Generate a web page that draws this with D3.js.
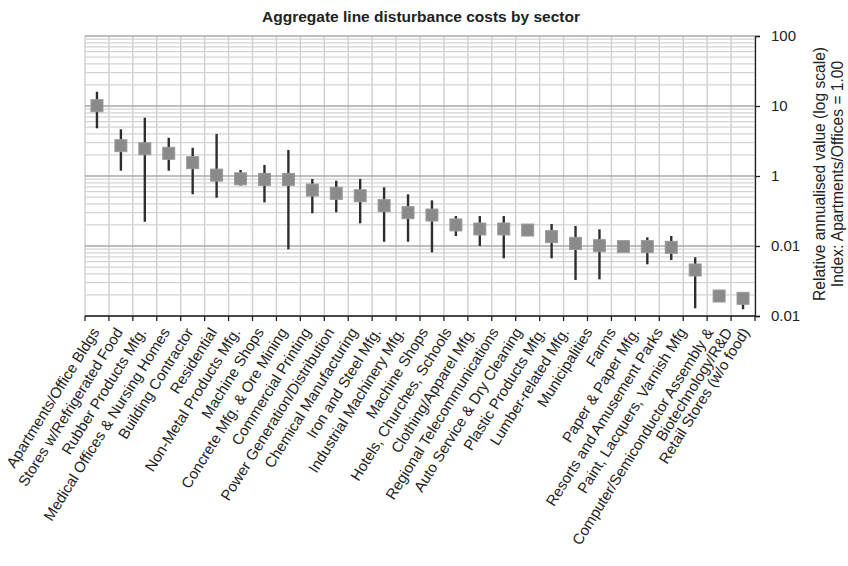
<!DOCTYPE html>
<html>
<head>
<meta charset="utf-8">
<script src="https://cdn.jsdelivr.net/npm/d3@7"></script>
<style>
  body { margin: 0; background: #fff; }
  svg { display: block; font-family: "Liberation Sans", Arial, Helvetica, sans-serif; }
</style>
</head>
<body>
<svg id="chart" width="848" height="566"></svg>
<script>
// Sector names (one entry per column; the two-line one uses "\n")
const sectors = [
  "Apartments/Office Bldgs", "Stores w/Refrigerated Food", "Rubber Products Mfg.",
  "Medical Offices & Nursing Homes", "Building Contractor", "Residential",
  "Non-Metal Products Mfg.", "Machine Shops", "Concrete Mfg. & Ore Mining",
  "Commercial Printing", "Power Generation/Distribution", "Chemical Manufacturing",
  "Iron and Steel Mfg.", "Industrial Machinery Mfg.", "Machine Shops",
  "Hotels, Churches, Schools", "Clothing/Apparel Mfg.", "Regional Telecommunications",
  "Auto Service & Dry Cleaning", "Plastic Products Mfg.", "Lumber-related Mfg.",
  "Municipalities", "Farms", "Paper & Paper Mfg.", "Resorts and Amusement Parks",
  "Paint, Lacquers, Varnish Mfg", "Computer/Semiconductor Assembly &\nBiotechnology/R&D",
  "Retail Stores (w/o food)"
];

// Central estimate per sector
const central = [
  10.1, 2.71, 2.45, 2.11, 1.55, 1.03, 0.91, 0.895, 0.895, 0.63, 0.565, 0.523,
  0.377, 0.299, 0.277, 0.20, 0.175, 0.175, 0.169, 0.136, 0.109, 0.101, 0.098,
  0.098, 0.0957, 0.0454, 0.0193, 0.0179
];

// Upper end of the range (null = no range drawn)
const upper = [
  16, 4.65, 6.8, 3.52, 2.53, 3.98, 1.22, 1.44, 2.35, 0.906, 0.857, 0.906,
  0.689, 0.548, 0.449, 0.268, 0.268, 0.268, null, 0.206, 0.193, 0.173, null,
  0.133, 0.139, 0.0689, null, 0.0179
];

// Lower end of the range
const lower = [
  4.8, 1.19, 0.222, 1.19, 0.548, 0.49, 0.73, 0.42, 0.0897, 0.293, 0.303, 0.211,
  0.115, 0.115, 0.081, 0.139, 0.10, 0.0667, null, 0.0667, 0.0327, 0.0334, null,
  0.0547, 0.063, 0.0129, null, 0.01247
];

// Right-axis tick values and the labels printed beside them
const tickValues = [100, 10, 1, 0.1, 0.01];
const tickLabels = ["100", "10", "1", "0.01", "0.01"];

const title = "Aggregate line disturbance costs by sector";
const axisTitle = ["Relative annualised value (log scale)", "Index: Apartments/Offices = 1.00"];

const svg = d3.select("#chart");
const plot = { left: 85, right: 755, top: 36, bottom: 316 };

const x = d3.scaleBand()
  .domain(d3.range(sectors.length))
  .range([plot.left, plot.right])
  .paddingInner(0).paddingOuter(0);

const y = d3.scaleLog()
  .domain([0.01, 100])
  .range([plot.bottom, plot.top]);

// Minor horizontal grid (2..9 within each decade)
const minor = [];
for (let e = -2; e < 2; e++) {
  for (let m = 2; m <= 9; m++) minor.push(m * Math.pow(10, e));
}
svg.append("g").selectAll("line").data(minor).join("line")
  .attr("x1", plot.left).attr("x2", plot.right)
  .attr("y1", d => y(d)).attr("y2", d => y(d))
  .attr("stroke", "#d4d4d4").attr("stroke-width", 1.3);

// Vertical grid at the column boundaries
const bounds = d3.range(sectors.length + 1).map(i => plot.left + i * x.step());
svg.append("g").selectAll("line").data(bounds).join("line")
  .attr("x1", d => d).attr("x2", d => d)
  .attr("y1", plot.top).attr("y2", plot.bottom)
  .attr("stroke", "#d2d2d2").attr("stroke-width", 1.5);

// Major horizontal grid (decades)
svg.append("g").selectAll("line").data(tickValues).join("line")
  .attr("x1", plot.left).attr("x2", plot.right)
  .attr("y1", d => y(d)).attr("y2", d => y(d))
  .attr("stroke", "#a9a9a9").attr("stroke-width", 1.6);

// Bottom axis: ticks on column boundaries
svg.append("line")
  .attr("x1", plot.left).attr("x2", plot.right)
  .attr("y1", plot.bottom).attr("y2", plot.bottom)
  .attr("stroke", "#222").attr("stroke-width", 1.3);
svg.append("g").selectAll("line").data(bounds).join("line")
  .attr("x1", d => d).attr("x2", d => d)
  .attr("y1", plot.bottom).attr("y2", plot.bottom + 5)
  .attr("stroke", "#222").attr("stroke-width", 1.3);

// Right axis
const yAxis = d3.axisRight(y)
  .tickValues(tickValues)
  .tickFormat((d, i) => tickLabels[i])
  .tickSize(5).tickPadding(11);
const gy = svg.append("g")
  .attr("transform", `translate(${plot.right},0)`)
  .call(yAxis);
gy.select(".domain").attr("stroke", "#222").attr("stroke-width", 1.3);
gy.selectAll(".tick line").attr("stroke", "#222").attr("stroke-width", 1.3);
gy.selectAll(".tick text")
  .attr("fill", "#222")
  .style("font-size", "15px")
  .style("font-family", "'Liberation Sans', Arial, sans-serif");

// Axis title (rotated, two lines)
const at = svg.append("text")
  .attr("transform", `translate(825,174) rotate(-90)`)
  .attr("text-anchor", "middle")
  .attr("fill", "#222")
  .style("font-size", "15.6px");
at.selectAll("tspan").data(axisTitle).join("tspan")
  .attr("x", 0)
  .attr("dy", (d, i) => i === 0 ? 0 : 18)
  .text(d => d);

// Range whiskers
const idx = d3.range(sectors.length);
const cx = i => x(i) + x.bandwidth() / 2;
svg.append("g").selectAll("line")
  .data(idx.filter(i => upper[i] != null && lower[i] != null))
  .join("line")
  .attr("x1", cx).attr("x2", cx)
  .attr("y1", i => y(upper[i])).attr("y2", i => y(lower[i]))
  .attr("stroke", "#2e2e2e").attr("stroke-width", 2.4);

// Central estimate markers
const ms = 12;
svg.append("g").selectAll("rect").data(idx).join("rect")
  .attr("x", i => cx(i) - ms / 2)
  .attr("y", i => y(central[i]) - ms / 2)
  .attr("width", ms).attr("height", ms)
  .attr("fill", "#8a8a8a")
  .attr("stroke", "#9a9a9a").attr("stroke-width", 1);

// Sector labels, rotated; the label ends run on their own spacing,
// opening up at the right to make room for the two-line label
const n0 = sectors.length - 1;
const labelX = d3.scaleLinear()
  .domain([0, n0 - 2, n0])
  .range([100, 687, 750]);
const labelAngle = -58;
const lg = svg.append("g");
idx.forEach(i => {
  const lines = sectors[i].split("\n");
  const n = lines.length;
  lines.forEach((t, k) => {
    const lx = labelX(i) + (k - (n - 1) / 2) * 19 + (n - 1) * 5;
    lg.append("text")
      .attr("transform", `translate(${lx},332) rotate(${labelAngle})`)
      .attr("text-anchor", "end")
      .attr("fill", "#222")
      .style("font-size", "15px")
      .text(t);
  });
});

// Title
svg.append("text")
  .attr("x", 421).attr("y", 22)
  .attr("text-anchor", "middle")
  .attr("fill", "#222")
  .style("font-size", "15.5px")
  .style("font-weight", "bold")
  .text(title);
</script>
</body>
</html>
